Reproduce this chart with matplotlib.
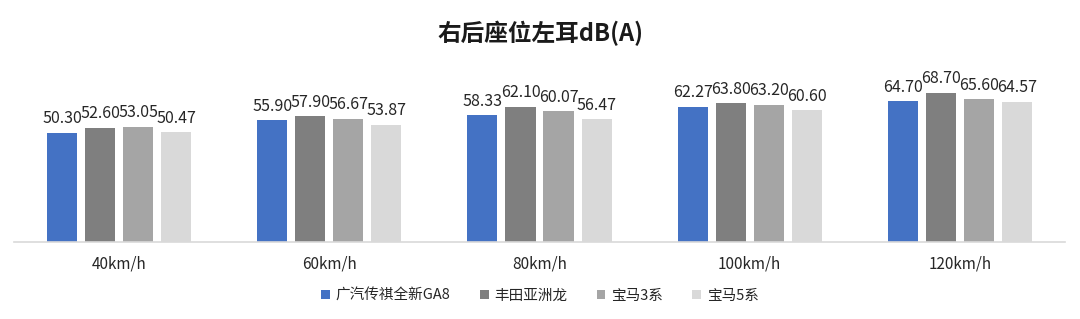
import numpy as np
import matplotlib
matplotlib.use("Agg")
import matplotlib.pyplot as plt

plt.rcParams["font.family"] = ["Noto Sans CJK SC", "DejaVu Sans"]

# ── data ───────────────────────────────────────────────────────────────────
speeds = ["40km/h", "60km/h", "80km/h", "100km/h", "120km/h"]
cars = ["广汽传祺全新GA8", "丰田亚洲龙", "宝马3系", "宝马5系"]
ga8 = [50.30, 55.90, 58.33, 62.27, 64.70]
avalon = [52.60, 57.90, 62.10, 63.80, 68.70]
bmw3 = [53.05, 56.67, 60.07, 63.20, 65.60]
bmw5 = [50.47, 53.87, 56.47, 60.60, 64.57]

COLORS = ["#4472C4", "#7F7F7F", "#A5A5A5", "#D9D9D9"]

fig = plt.figure(figsize=(10.8, 3.19), dpi=100)
ax = fig.add_axes([14 / 1080, 1 - 242 / 319, (1065 - 14) / 1080, (242 - 68) / 319])

x = np.arange(len(speeds))
width = 0.143
pitch = 0.181
series = [ga8, avalon, bmw3, bmw5]
for i, (name, vals, col) in enumerate(zip(cars, series, COLORS)):
    pos = x + (i - 1.5) * pitch
    bars = ax.bar(pos, vals, width=width, color=col, label=name)
    for b, v in zip(bars, vals):
        ax.annotate(f"{v:.2f}", xy=(b.get_x() + b.get_width() / 2, v),
                    xytext=(0, 4), textcoords="offset points",
                    ha="center", va="bottom", fontsize=11.5, color="#262626")

ax.set_xlim(-0.5, len(speeds) - 0.5)
ax.set_ylim(0, 80)
ax.set_xticks(x)
ax.set_xticklabels(speeds, fontsize=11, color="#262626")
ax.tick_params(axis="x", length=0, pad=10)
ax.set_yticks([])
for s in ["top", "right", "left"]:
    ax.spines[s].set_visible(False)
ax.spines["bottom"].set_color("#D9D9D9")
ax.spines["bottom"].set_linewidth(1.2)

fig.text(0.5, 1 - 33 / 319, "右后座位左耳dB(A)", ha="center", va="center",
         fontsize=17, fontweight="bold", color="#1a1a1a")

fig.legend(loc="center", bbox_to_anchor=(0.5, 1 - 296 / 319), ncol=4,
           frameon=False, fontsize=10.5, handlelength=0.6, handleheight=0.6,
           handletextpad=0.4, columnspacing=2.0, labelcolor="#262626")

fig.savefig("out.png", dpi=100, facecolor="white")
